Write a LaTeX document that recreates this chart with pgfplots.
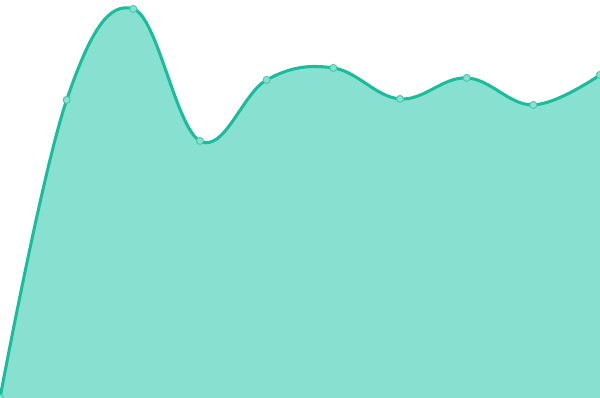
\documentclass[border=0pt]{standalone}
\usepackage{pgfplots}
\pgfplotsset{compat=1.18}
\definecolor{lineC}{HTML}{1ABC9C}
\definecolor{fillC}{HTML}{88E0D0}
\begin{document}
\begin{tikzpicture}
\begin{axis}[
  width=9cm, height=6cm, scale only axis,
  hide axis,
  xmin=0, xmax=9, ymin=0, ymax=400,
  clip=true, clip marker paths=true,
]
\addplot[draw=none, fill=fillC, smooth, tension=0.65] coordinates {
(0,0) (1,298) (2,389) (3,257) (4,318) (5,330) (6,299) (7,320) (8,293) (9,323)
} \closedcycle;
\addplot[lineC, line width=1.3pt, smooth, tension=0.65,
  mark=*, mark size=1.5pt, mark options={fill=fillC, draw=lineC!80, line width=0.4pt}] coordinates {
(0,0) (1,298) (2,389) (3,257) (4,318) (5,330) (6,299) (7,320) (8,293) (9,323)
};
\end{axis}
\end{tikzpicture}
\end{document}
